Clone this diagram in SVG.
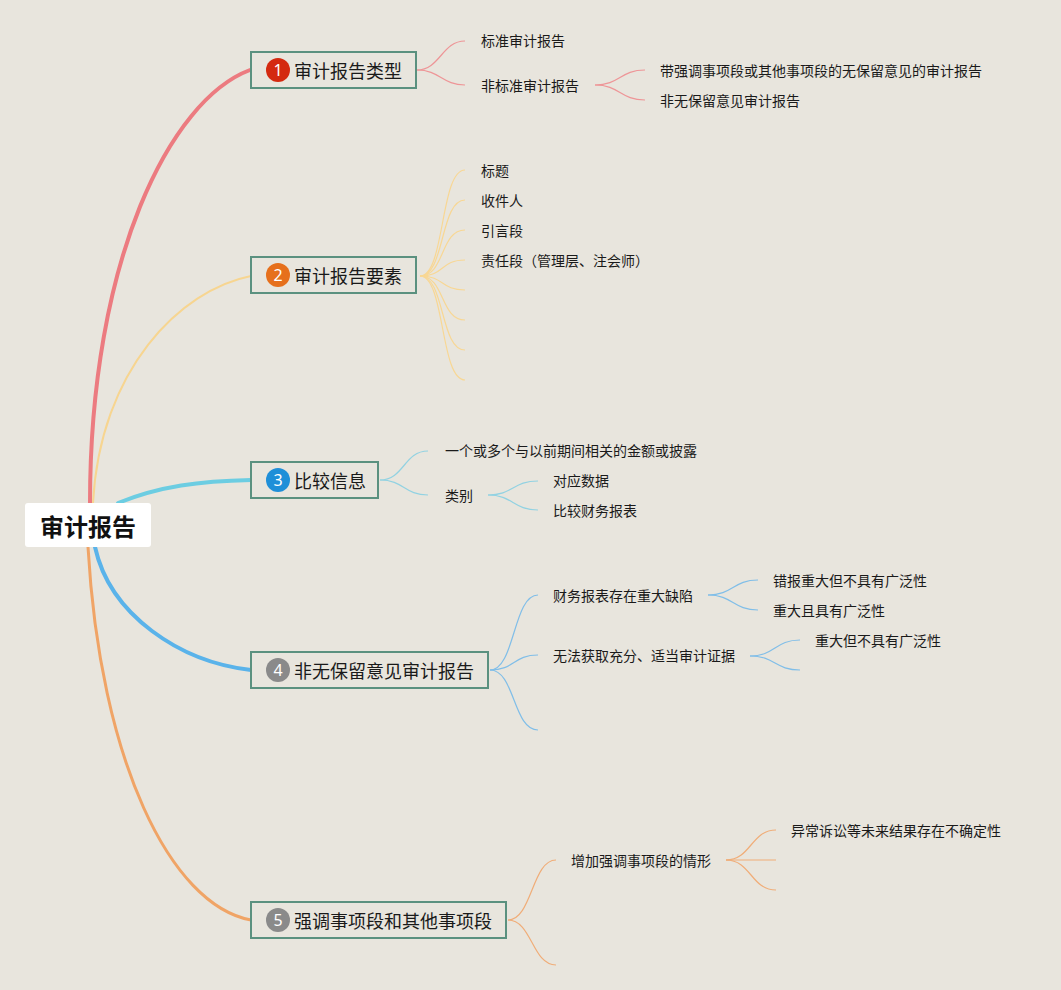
<svg xmlns="http://www.w3.org/2000/svg" width="1061" height="990" viewBox="0 0 1061 990">
<style>
.bg{fill:#e8e5dd}
.box{fill:#e8e5dd;stroke:#5b917f;stroke-width:2}
.bt{font-family:"Noto Sans CJK SC","Noto Sans",sans-serif;font-size:18px;fill:#1a1a1a;dominant-baseline:central}
.lt{font-family:"Noto Sans CJK SC","Noto Sans",sans-serif;font-size:14px;fill:#1a1a1a;dominant-baseline:central}
.num{font-family:"Noto Sans","Liberation Sans",sans-serif;font-size:16px;fill:#fff;text-anchor:middle;dominant-baseline:central}
.c{fill:none;stroke-linecap:round}
</style>
<rect class="bg" x="0" y="0" width="1061" height="990"/>
<g id="connectors">
<path class="c" d="M90 503 C90 260 170 100 250 70" stroke="#ec7b80" stroke-width="4"/>
<path class="c" d="M93 503 C100 370 180 290 251 276" stroke="#f7d590" stroke-width="2"/>
<path class="c" d="M118 503 C160 486 200 481 251 480" stroke="#6ccde2" stroke-width="4"/>
<path class="c" d="M95 547 C110 615 180 662 251 670" stroke="#5ab3ea" stroke-width="4"/>
<path class="c" d="M88 547 C100 760 170 905 251 920" stroke="#f0a466" stroke-width="3"/>
<g stroke="#ee9597" stroke-width="1.2" fill="none">
<path d="M417 70 C440 70 442 41 465 41"/>
<path d="M417 70 C440 70 442 85 465 85"/>
<path d="M595 85 C620 85 620 70 645 70"/>
<path d="M595 85 C620 85 620 100 645 100"/>
</g>
<g stroke="#f8d794" stroke-width="1.2" fill="none">
<path d="M420 276 C445 276 440 170 465 170"/>
<path d="M420 276 C445 276 440 200 465 200"/>
<path d="M420 276 C445 276 440 230 465 230"/>
<path d="M420 276 C445 276 440 260 465 260"/>
<path d="M420 276 C445 276 440 290 465 290"/>
<path d="M420 276 C445 276 440 320 465 320"/>
<path d="M420 276 C445 276 440 350 465 350"/>
<path d="M420 276 C445 276 440 380 465 380"/>
</g>
<g stroke="#92d2e2" stroke-width="1.2" fill="none">
<path d="M380 480 C404 480 404 451 428 451"/>
<path d="M380 480 C404 480 404 495 428 495"/>
<path d="M488 495 C513 495 513 481 538 481"/>
<path d="M488 495 C513 495 513 510 538 510"/>
</g>
<g stroke="#80bee8" stroke-width="1.2" fill="none">
<path d="M490 670 C515 670 513 595 538 595"/>
<path d="M490 670 C515 670 513 655 538 655"/>
<path d="M490 670 C515 670 513 730 538 730"/>
<path d="M708 595 C733 595 733 580 758 580"/>
<path d="M708 595 C733 595 733 610 758 610"/>
<path d="M750 656 C775 656 775 640 800 640"/>
<path d="M750 656 C775 656 775 670 800 670"/>
</g>
<g stroke="#f0ad78" stroke-width="1.2" fill="none">
<path d="M508 920 C532 920 532 860 556 860"/>
<path d="M508 920 C532 920 532 965 556 965"/>
<path d="M726 860 C751 860 751 830 776 830"/>
<path d="M726 860 L776 860"/>
<path d="M726 860 C751 860 751 890 776 890"/>
</g>
</g>
<g id="root">
<rect x="25" y="503" width="126" height="44" rx="3" fill="#ffffff"/>
<text x="88" y="525" text-anchor="middle" font-family="'Noto Sans CJK SC','Noto Sans',sans-serif" font-size="24" font-weight="bold" fill="#111" dominant-baseline="central">审计报告</text>
</g>
<g id="n1">
<rect class="box" x="251" y="52" width="165" height="36"/>
<circle cx="278" cy="70" r="12" fill="#d42a10"/>
<text class="num" x="278" y="70">1</text>
<text class="bt" x="294" y="70">审计报告类型</text>
</g>
<g id="n1a"><text class="lt" x="481" y="40">标准审计报告</text></g>
<g id="n1b"><text class="lt" x="481" y="85">非标准审计报告</text></g>
<g id="n1b1"><text class="lt" x="660" y="70">带强调事项段或其他事项段的无保留意见的审计报告</text></g>
<g id="n1b2"><text class="lt" x="660" y="100">非无保留意见审计报告</text></g>
<g id="n2">
<rect class="box" x="251" y="257" width="165" height="36"/>
<circle cx="278" cy="275" r="12" fill="#e6701c"/>
<text class="num" x="278" y="275">2</text>
<text class="bt" x="294" y="275">审计报告要素</text>
</g>
<g id="n2a"><text class="lt" x="481" y="170">标题</text></g>
<g id="n2b"><text class="lt" x="481" y="200">收件人</text></g>
<g id="n2c"><text class="lt" x="481" y="230">引言段</text></g>
<g id="n2d"><text class="lt" x="481" y="260">责任段（管理层、注会师）</text></g>
<g id="n3">
<rect class="box" x="251" y="462" width="127" height="36"/>
<circle cx="278" cy="480" r="12" fill="#1f8fd8"/>
<text class="num" x="278" y="480">3</text>
<text class="bt" x="294" y="480">比较信息</text>
</g>
<g id="n3a"><text class="lt" x="445" y="450">一个或多个与以前期间相关的金额或披露</text></g>
<g id="n3b"><text class="lt" x="445" y="495">类别</text></g>
<g id="n3b1"><text class="lt" x="553" y="480">对应数据</text></g>
<g id="n3b2"><text class="lt" x="553" y="510">比较财务报表</text></g>
<g id="n4">
<rect class="box" x="251" y="652" width="237" height="36"/>
<circle cx="278" cy="670" r="12" fill="#8a8a8a"/>
<text class="num" x="278" y="670">4</text>
<text class="bt" x="294" y="670">非无保留意见审计报告</text>
</g>
<g id="n4a"><text class="lt" x="553" y="595">财务报表存在重大缺陷</text></g>
<g id="n4a1"><text class="lt" x="773" y="580">错报重大但不具有广泛性</text></g>
<g id="n4a2"><text class="lt" x="773" y="610">重大且具有广泛性</text></g>
<g id="n4b"><text class="lt" x="553" y="655">无法获取充分、适当审计证据</text></g>
<g id="n4b1"><text class="lt" x="815" y="640">重大但不具有广泛性</text></g>
<g id="n5">
<rect class="box" x="251" y="902" width="255" height="36"/>
<circle cx="278" cy="920" r="12" fill="#8a8a8a"/>
<text class="num" x="278" y="920">5</text>
<text class="bt" x="294" y="920">强调事项段和其他事项段</text>
</g>
<g id="n5a"><text class="lt" x="571" y="860">增加强调事项段的情形</text></g>
<g id="n5a1"><text class="lt" x="791" y="830">异常诉讼等未来结果存在不确定性</text></g>
</svg>
